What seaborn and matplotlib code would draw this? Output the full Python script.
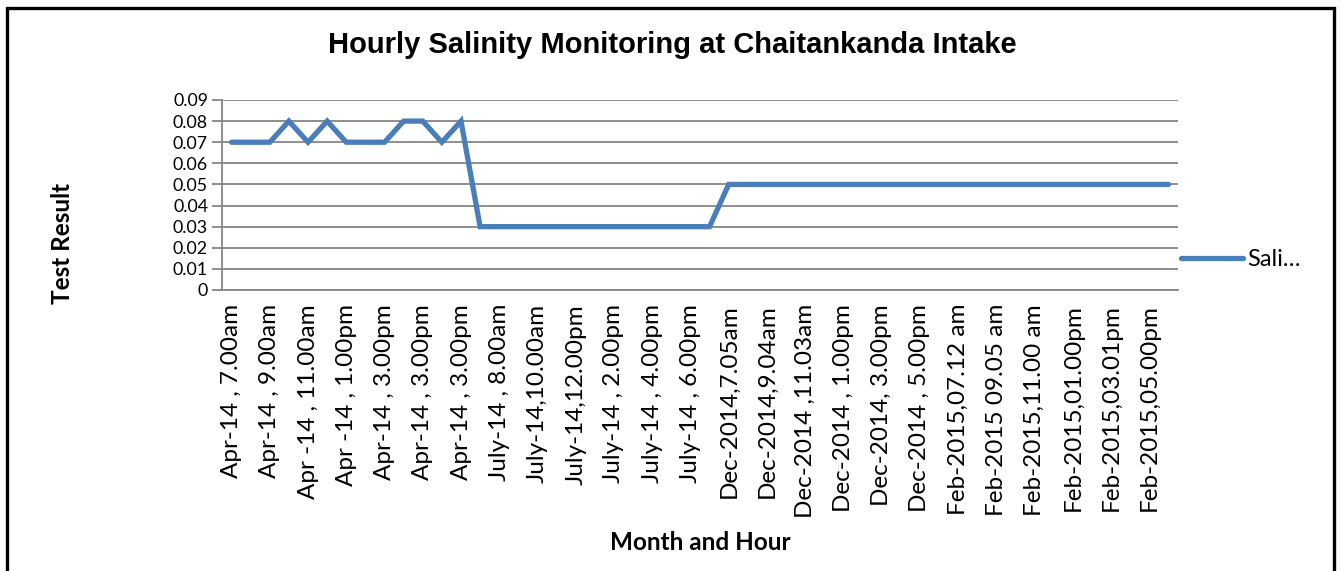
import numpy as np
import pandas as pd
import matplotlib.pyplot as plt
import seaborn as sns
from matplotlib.patches import Rectangle
from matplotlib.ticker import FixedLocator

# salinity readings, one per category (50 readings, labels shown on every other one)
salinity = [0.07, 0.07, 0.07, 0.08, 0.07, 0.08, 0.07, 0.07, 0.07, 0.08,
            0.08, 0.07, 0.08,
            0.03, 0.03, 0.03, 0.03, 0.03, 0.03, 0.03, 0.03, 0.03, 0.03,
            0.03, 0.03, 0.03,
            0.05, 0.05, 0.05, 0.05, 0.05, 0.05, 0.05, 0.05, 0.05, 0.05,
            0.05, 0.05, 0.05, 0.05, 0.05, 0.05, 0.05, 0.05, 0.05, 0.05,
            0.05, 0.05, 0.05, 0.05]

# labels that are visible on the axis (every second category)
shown_labels = ['Apr-14 , 7.00am', 'Apr-14 , 9.00am', 'Apr -14 , 11.00am',
                'Apr -14 , 1.00pm', 'Apr-14 , 3.00pm', 'Apr-14 , 3.00pm',
                'Apr-14 , 3.00pm', 'July-14 , 8.00am', 'July-14,10.00am',
                'July-14,12.00pm', 'July-14 , 2.00pm', 'July-14 , 4.00pm',
                'July-14 , 6.00pm', 'Dec-2014,7.05am', 'Dec-2014,9.04am',
                'Dec-2014 ,11.03am', 'Dec-2014 , 1.00pm', 'Dec-2014, 3.00pm',
                'Dec-2014 , 5.00pm', 'Feb-2015,07.12 am', 'Feb-2015 09.05 am',
                'Feb-2015,11.00 am', 'Feb-2015,01.00pm', 'Feb-2015,03.01pm',
                'Feb-2015,05.00pm']

y_ticks = [0, 0.01, 0.02, 0.03, 0.04, 0.05, 0.06, 0.07, 0.08, 0.09]
y_tick_labels = ['0', '0.01', '0.02', '0.03', '0.04', '0.05', '0.06', '0.07', '0.08', '0.09']

df = pd.DataFrame({'idx': np.arange(len(salinity)), 'Salinity': salinity})

sns.set_style("white")
plt.rcParams['font.family'] = ['Lato', 'DejaVu Sans']
plt.rcParams['text.color'] = 'black'
plt.rcParams['xtick.labelcolor'] = 'black'
plt.rcParams['ytick.labelcolor'] = 'black'

W, H = 1343, 571
fig = plt.figure(figsize=(W / 100, H / 100), dpi=100)
ax = fig.add_axes([222 / W, (H - 290) / H, (1178 - 222) / W, (290 - 100) / H])

grid_col = '#868686'
line_col = '#4A7EBB'

sns.lineplot(data=df, x='idx', y='Salinity', ax=ax, color=line_col,
             linewidth=3.8, label='Sali\u2026', solid_joinstyle='miter')

ax.set_xlim(-0.5, len(salinity) - 0.5)
ax.set_ylim(0, 0.09)

# horizontal gridlines; labels kept small enough not to collide (21px apart)
ax.set_yticks(y_ticks)
ax.set_yticklabels(y_tick_labels, fontsize=12.8, color='black')
ax.yaxis.grid(True, color=grid_col, linewidth=1.3)
ax.set_axisbelow(True)

# x labels on every other category, tick marks on category boundaries
ax.xaxis.set_major_locator(FixedLocator(np.arange(0, len(salinity), 2)))
ax.set_xticklabels(shown_labels, rotation=90, fontsize=17.5, color='black')
ax.xaxis.set_minor_locator(FixedLocator(np.arange(-0.5, len(salinity), 1)))
ax.tick_params(axis='x', which='major', length=0, pad=10)
ax.tick_params(axis='x', which='minor', length=6, width=1.3, color=grid_col, direction='out')
ax.tick_params(axis='y', length=7, width=1.3, color=grid_col, direction='out', pad=3, left=True)

for side in ['top', 'right']:
    ax.spines[side].set_visible(False)
for side in ['left', 'bottom']:
    ax.spines[side].set_color(grid_col)
    ax.spines[side].set_linewidth(1.3)

ax.set_xlabel('')
ax.set_ylabel('')

fig.text(672 / W, 1 - 45 / H, 'Hourly Salinity Monitoring at Chaitankanda Intake',
         ha='center', va='center', fontsize=21, fontweight='bold',
         family=['Liberation Sans', 'DejaVu Sans'])
fig.text(62 / W, 1 - 243 / H, 'Test Result', ha='center', va='center',
         rotation=90, fontsize=17.5, fontweight='bold')
fig.text(700 / W, 1 - 543 / H, 'Month and Hour', ha='center', va='center',
         fontsize=17.5, fontweight='bold')

leg = ax.legend(loc='center left', bbox_to_anchor=(1172 / W, 1 - 260 / H),
                bbox_transform=fig.transFigure, frameon=False, fontsize=17,
                handlelength=2.6, handletextpad=0.2, borderaxespad=0)

# outer chart border
fig.patches.append(Rectangle((7 / W, -0.05), (1334 - 7) / W, 1.05 - 8 / H,
                             transform=fig.transFigure, fill=False,
                             edgecolor='black', linewidth=2.4))

plt.savefig('out.png', dpi=100)
